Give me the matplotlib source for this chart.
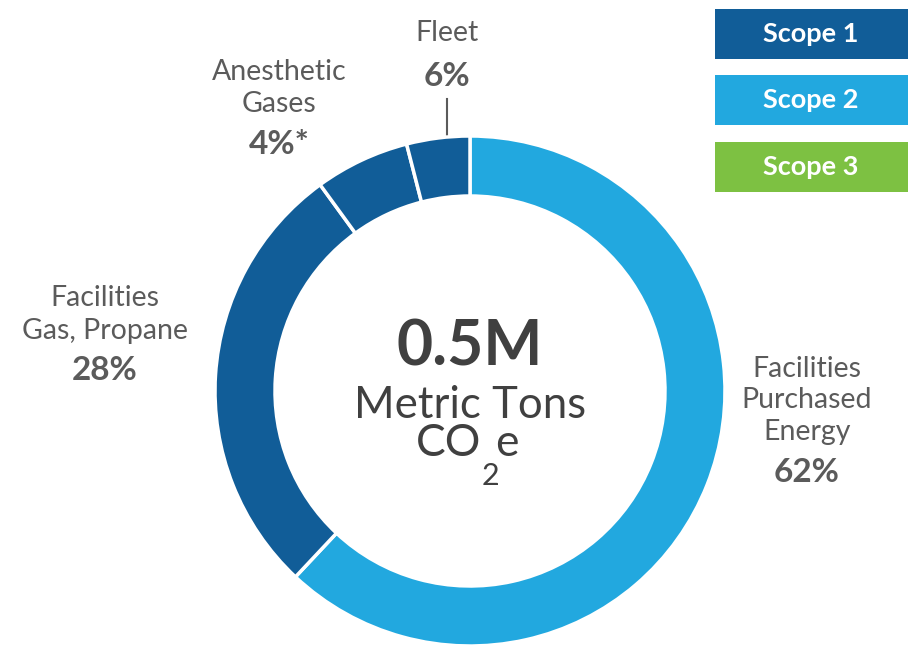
import matplotlib.pyplot as plt
from matplotlib.patches import Rectangle

plt.rcParams['font.family'] = ['Lato', 'DejaVu Sans']

# slices as drawn, clockwise from 12 o'clock
slice_names = ['Facilities\nPurchased\nEnergy', 'Facilities\nGas, Propane',
               'Anesthetic\nGases', 'Fleet']
slice_shares = [62, 28, 6, 4]
slice_labels = ['62%', '28%', '4%*', '6%']
slice_scope = ['Scope 2', 'Scope 1', 'Scope 1', 'Scope 1']

scopes = ['Scope 1', 'Scope 2', 'Scope 3']
scope_colors = {'Scope 1': '#115d98', 'Scope 2': '#22a8df', 'Scope 3': '#7dc142'}

total_value = '0.5M'
total_unit = 'Metric Tons'

W, H = 913, 647
fig = plt.figure(figsize=(W / 100, H / 100), dpi=100)
ax = fig.add_axes([0, 0, 1, 1])
ax.set_xlim(0, W)
ax.set_ylim(H, 0)
ax.axis('off')

# pie in a normal-orientation axes so clockwise stays clockwise
pax = fig.add_axes([0, 0, 1, 1])
pax.pie(slice_shares, colors=[scope_colors[s] for s in slice_scope],
        startangle=90, counterclock=False, center=(470, H - 391), radius=255,
        wedgeprops=dict(width=60, edgecolor='white', linewidth=2.5))
pax.set_xlim(0, W)
pax.set_ylim(0, H)
pax.set_aspect('auto')
pax.axis('off')

lab_col = '#5b5b5b'
ctr_col = '#404040'

# labels (image pixel coords)
pos = {
    0: (807, [369, 400, 432], 472),
    1: (105, [298, 331], 370),
    2: (279, [72, 104], 144),
    3: (447, [33], 76),
}
for i, name in enumerate(slice_names):
    x, ys, yp = pos[i]
    for line, y in zip(name.split('\n'), ys):
        ax.text(x, y, line, ha='center', va='center', fontsize=20.5, color=lab_col)
    ax.text(x, yp, slice_labels[i], ha='center', va='center', fontsize=24,
            fontweight='bold', color=lab_col)

# leader line for Fleet
ax.plot([447, 447], [99, 136], color=lab_col, lw=1.5)

# center text
ax.text(470, 348, total_value, ha='center', va='center', fontsize=45,
        fontweight='bold', color=ctr_col)
ax.text(470, 405, total_unit, ha='center', va='center', fontsize=31.5, color=ctr_col)
ax.text(481, 456, 'CO', ha='right', va='baseline', fontsize=32, color=ctr_col)
ax.text(482, 485, '2', ha='left', va='baseline', fontsize=22, color=ctr_col)
ax.text(495, 456, 'e', ha='left', va='baseline', fontsize=32, color=ctr_col)

# scope legend boxes
box_y = [9, 75, 142]
for s, y in zip(scopes, box_y):
    ax.add_patch(Rectangle((715, y), 193, 50, color=scope_colors[s], lw=0))
    ax.text(811, y + 25, s, ha='center', va='center', fontsize=19.5,
            fontweight='bold', color='white')

fig.savefig('out.png', dpi=100)
